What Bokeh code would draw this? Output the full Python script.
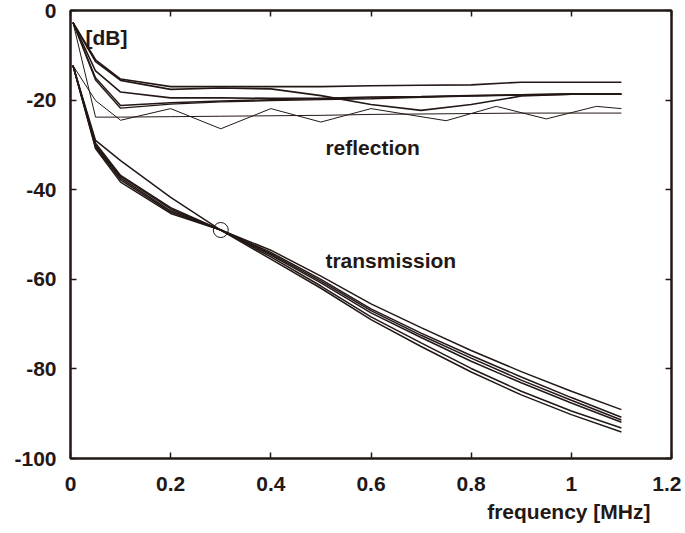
from bokeh.plotting import figure
from bokeh.models import LinearAxis, FixedTicker, Label, Range1d, Title
from bokeh.embed import file_html
from bokeh.resources import INLINE

# ---------------- data ----------------
xr = [0.005, 0.05, 0.1, 0.2, 0.3, 0.4, 0.5, 0.6, 0.7, 0.8, 0.9, 1.0, 1.1]
refl_1 = [-2.7, -11.0, -15.3, -17.0, -17.0, -17.0, -17.0, -16.8, -16.7, -16.6, -16.0, -16.0, -16.0]
refl_2 = [-2.7, -11.4, -15.6, -17.6, -17.3, -17.5, -19.0, -21.0, -22.3, -21.0, -19.1, -18.7, -18.7]
refl_3 = [-2.7, -13.5, -18.2, -19.5, -19.5, -19.6, -19.6, -19.3, -19.2, -19.0, -18.8, -18.6, -18.6]
refl_4 = [-2.7, -15.0, -21.2, -20.6, -20.2, -19.9, -19.7, -19.5, -19.3, -19.0, -18.8, -18.7, -18.7]
refl_5 = [-2.7, -15.5, -21.8, -20.9, -20.4, -20.1, -19.9, -19.7, -19.4, -19.1, -18.9, -18.7, -18.7]
refl_flat = [-2.7, -23.8, -23.8, -23.7, -23.6, -23.5, -23.4, -23.2, -23.1, -23.0, -22.9, -22.9, -22.9]
xz = [0.005, 0.05, 0.1, 0.2, 0.3, 0.4, 0.5, 0.6, 0.75, 0.85, 0.95, 1.05, 1.1]
refl_zig = [-12.3, -20.1, -24.5, -21.9, -26.4, -21.9, -24.9, -21.9, -24.6, -21.4, -24.2, -21.4, -21.9]

xt = [0.005, 0.05, 0.1, 0.2, 0.3, 0.4, 0.5, 0.6, 0.7, 0.8, 0.9, 1.0, 1.1]
trans_1 = [-12.3, -30.8, -38.3, -45.3, -49.0, -53.5, -59.3, -65.5, -70.8, -75.9, -80.6, -85.0, -89.1]
trans_2 = [-12.3, -30.5, -37.8, -45.0, -49.0, -54.0, -60.0, -66.6, -72.0, -77.0, -81.8, -86.4, -90.8]
trans_3 = [-12.3, -30.2, -37.4, -44.7, -49.0, -54.3, -60.4, -67.0, -72.5, -77.6, -82.5, -87.0, -91.4]
trans_4 = [-12.3, -29.9, -37.0, -44.3, -49.0, -54.6, -60.8, -67.5, -73.0, -78.3, -83.1, -87.6, -91.9]
trans_5 = [-12.3, -29.6, -36.8, -44.0, -49.0, -55.0, -61.5, -68.4, -74.2, -79.9, -85.0, -89.4, -93.2]
trans_6 = [-12.3, -29.0, -33.5, -41.7, -49.0, -55.5, -62.0, -69.0, -75.0, -80.7, -85.8, -90.2, -94.1]

marker_x = [0.3]
marker_y = [-49.0]

x_ticks = [0, 0.2, 0.4, 0.6, 0.8, 1.0, 1.2]
x_tick_labels = ["0", "0.2", "0.4", "0.6", "0.8", "1", "1.2"]
y_ticks = [-100, -80, -60, -40, -20, 0]
y_tick_labels = ["-100", "-80", "-60", "-40", "-20", "0"]

# ---------------- style ----------------
INK = "#231815"
FONT = "Liberation Sans"
FS = "21px"

p = figure(
    output_backend="svg", toolbar_location=None,
    frame_width=601, frame_height=448,
    min_border_left=70, min_border_right=10, min_border_top=10, min_border_bottom=2,
    x_range=Range1d(0, 1.2), y_range=Range1d(-100, 0),
)
p.background_fill_color = "white"
p.border_fill_color = "white"
p.outline_line_color = INK
p.outline_line_width = 2
p.xgrid.visible = False
p.ygrid.visible = False

def style_axis(ax, ticks, labels, show_labels=True):
    ax.ticker = FixedTicker(ticks=ticks)
    ax.axis_line_color = INK
    ax.axis_line_width = 2
    ax.major_tick_line_color = INK
    ax.major_tick_line_width = 1.5
    ax.major_tick_in = 6
    ax.major_tick_out = 0
    ax.minor_tick_line_color = None
    ax.major_label_text_font = FONT
    ax.major_label_text_font_style = "bold"
    ax.major_label_text_color = INK
    ax.major_label_text_font_size = FS
    if show_labels:
        ax.major_label_overrides = {t: l for t, l in zip(ticks, labels)}
    else:
        ax.major_label_overrides = {t: "" for t in ticks}
        ax.major_label_standoff = 0

style_axis(p.xaxis[0], x_ticks, x_tick_labels)
p.xaxis[0].major_label_standoff = 18
style_axis(p.yaxis[0], y_ticks, y_tick_labels)
p.yaxis[0].major_label_standoff = 14

top = LinearAxis()
style_axis(top, x_ticks, x_tick_labels, show_labels=False)
p.add_layout(top, "above")
right = LinearAxis()
style_axis(right, y_ticks, y_tick_labels, show_labels=False)
p.add_layout(right, "right")

# x-axis title, right-aligned under the axis
xtitle = Title(text="frequency [MHz]", align="right", offset=21, standoff=9,
               text_font=FONT, text_font_style="bold", text_font_size=FS,
               text_color=INK)
p.add_layout(xtitle, "below")

# reflection
for ys, w in [(refl_1, 1.6), (refl_2, 1.6), (refl_3, 1.6), (refl_4, 1.4), (refl_5, 1.4), (refl_flat, 1.0)]:
    p.line(xr, ys, line_color=INK, line_width=w)
p.line(xz, refl_zig, line_color=INK, line_width=1.0)

# transmission
for ys in [trans_1, trans_2, trans_3, trans_4, trans_5, trans_6]:
    p.line(xt, ys, line_color=INK, line_width=1.5)

p.scatter(marker_x, marker_y, marker="circle", size=15, fill_color=None,
          line_color=INK, line_width=1)

def add_label(x, y, text, align="left", baseline="alphabetic"):
    p.add_layout(Label(x=x, y=y, text=text, text_font=FONT, text_font_style="bold",
                       text_font_size=FS, text_color=INK, text_align=align,
                       text_baseline=baseline))

add_label(0.030, -6.1, "[dB]", baseline="middle")
add_label(0.509, -30.6, "reflection")
add_label(0.509, -55.8, "transmission")

open("out.html", "w").write(file_html(p, INLINE))
